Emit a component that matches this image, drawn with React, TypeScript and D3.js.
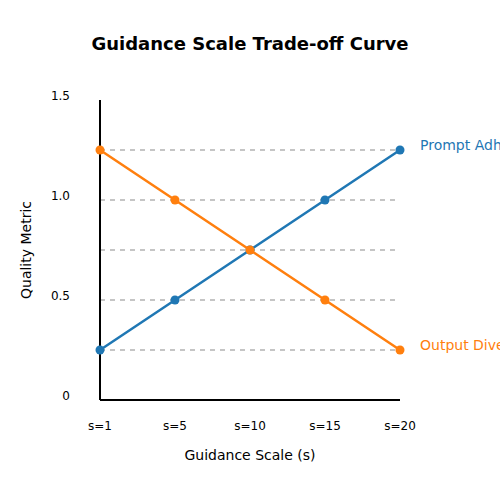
import { useEffect, useRef } from 'react';
import * as d3 from 'd3';

const categories = ['s=1', 's=5', 's=10', 's=15', 's=20'];
const promptAdherence = [0.25, 0.5, 0.75, 1.0, 1.25];
const outputDiversity = [1.25, 1.0, 0.75, 0.5, 0.25];
const gridValues = [0.25, 0.5, 0.75, 1.0, 1.25];
const yTicks = [0, 0.5, 1.0, 1.5];
const yTickLabels = ['0', '0.5', '1.0', '1.5'];

const series = [
  { name: 'Prompt Adherence', values: promptAdherence, color: '#1f77b4' },
  { name: 'Output Diversity', values: outputDiversity, color: '#ff7f0e' },
];

export default function App() {
  const svgRef = useRef<SVGSVGElement>(null);

  useEffect(() => {
    if (!svgRef.current) return;
    const svg = d3.select(svgRef.current);
    svg.selectAll('*').remove();
    const font = 'DejaVu Sans, sans-serif';

    const x = d3.scalePoint<string>().domain(categories).range([100, 400]);
    const y = d3.scaleLinear().domain([0, 1.5]).range([400, 100]);

    // title
    svg
      .append('text')
      .attr('x', 250)
      .attr('y', 50)
      .attr('text-anchor', 'middle')
      .attr('font-family', font)
      .attr('font-size', 18)
      .attr('font-weight', 'bold')
      .text('Guidance Scale Trade-off Curve');

    // dashed grid
    svg
      .selectAll('line.grid')
      .data(gridValues)
      .join('line')
      .attr('class', 'grid')
      .attr('x1', 100)
      .attr('x2', 395)
      .attr('y1', (d) => y(d))
      .attr('y2', (d) => y(d))
      .attr('stroke', '#b3b3b3')
      .attr('stroke-width', 1.3)
      .attr('stroke-dasharray', '5,5');

    // axes
    svg.append('line').attr('x1', 100).attr('x2', 100).attr('y1', y(1.5)).attr('y2', y(0)).attr('stroke', '#000').attr('stroke-width', 2);
    svg.append('line').attr('x1', 100).attr('x2', 400).attr('y1', y(0)).attr('y2', y(0)).attr('stroke', '#000').attr('stroke-width', 2);

    // y tick labels
    svg
      .selectAll('text.ytick')
      .data(yTicks)
      .join('text')
      .attr('class', 'ytick')
      .attr('x', 70)
      .attr('y', (d) => y(d))
      .attr('text-anchor', 'end')
      .attr('font-family', font)
      .attr('font-size', 12)
      .text((_, i) => yTickLabels[i]);

    // x tick labels
    svg
      .selectAll('text.xtick')
      .data(categories)
      .join('text')
      .attr('class', 'xtick')
      .attr('x', (d) => x(d)!)
      .attr('y', 430)
      .attr('text-anchor', 'middle')
      .attr('font-family', font)
      .attr('font-size', 12)
      .text((d) => d);

    // axis titles
    svg
      .append('text')
      .attr('x', 250)
      .attr('y', 460)
      .attr('text-anchor', 'middle')
      .attr('font-family', font)
      .attr('font-size', 14)
      .text('Guidance Scale (s)');
    svg
      .append('text')
      .attr('transform', 'translate(31,250) rotate(-90)')
      .attr('text-anchor', 'middle')
      .attr('font-family', font)
      .attr('font-size', 14)
      .text('Quality Metric');

    const line = d3
      .line<number>()
      .x((_, i) => x(categories[i])!)
      .y((d) => y(d));

    series.forEach((s) => {
      svg
        .append('path')
        .attr('d', line(s.values))
        .attr('fill', 'none')
        .attr('stroke', s.color)
        .attr('stroke-width', 2.5);
      svg
        .selectAll(null)
        .data(s.values)
        .join('circle')
        .attr('cx', (_, i) => x(categories[i])!)
        .attr('cy', (d) => y(d))
        .attr('r', 4.5)
        .attr('fill', s.color);
      svg
        .append('text')
        .attr('x', 420)
        .attr('y', y(s.values[s.values.length - 1]))
        .attr('font-family', font)
        .attr('font-size', 14)
        .attr('fill', s.color)
        .text(s.name);
    });
  }, []);

  return (
    <svg
      ref={svgRef}
      width={500}
      height={500}
      style={{ position: 'fixed', left: 0, top: 0, background: '#fff', overflow: 'hidden' }}
    />
  );
}
